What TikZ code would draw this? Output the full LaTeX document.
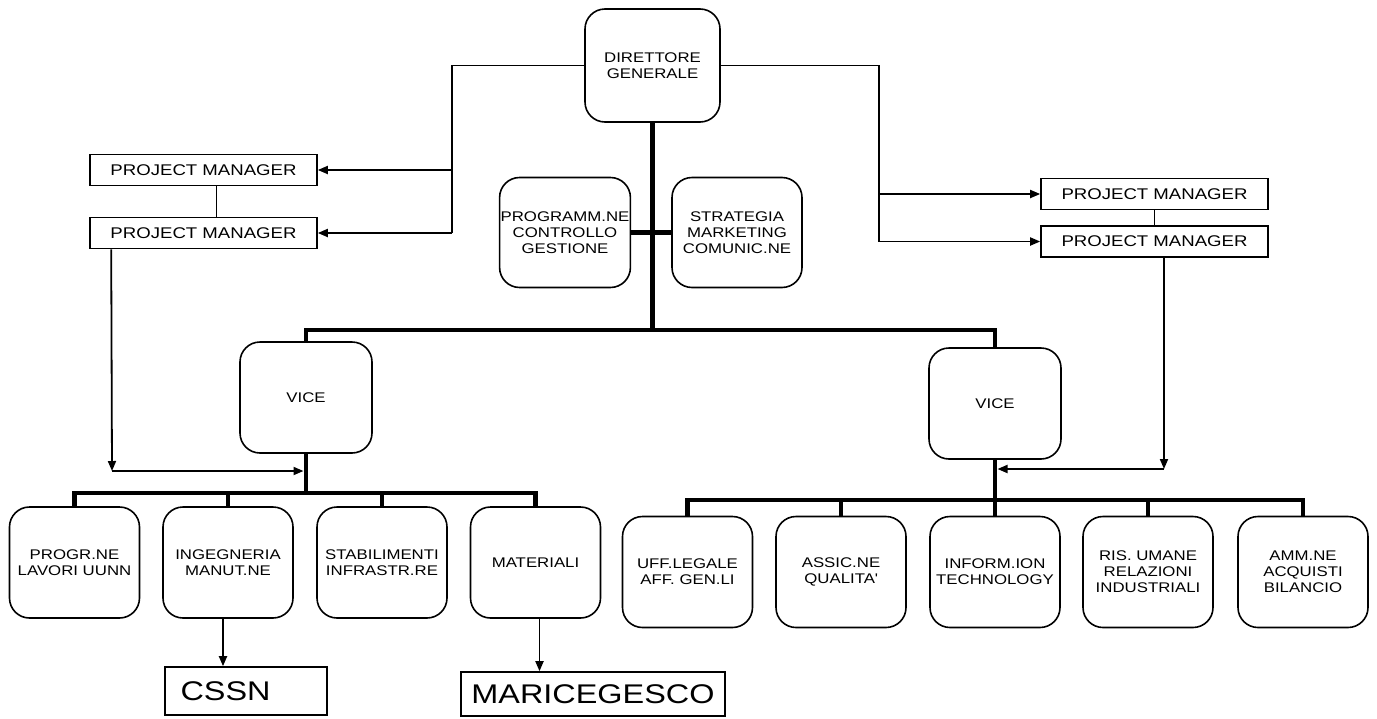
\documentclass[tikz,border=0pt]{standalone}
\usepackage{fontspec}
\setmainfont[FakeStretch=1.2]{Liberation Sans}
\usetikzlibrary{arrows.meta}

\begin{document}
\begin{tikzpicture}[x=1pt,y=-1pt,
    unit/.style={draw=black, line width=1.6pt, rounded corners=20pt, minimum width=130pt, minimum height=111pt, align=center, inner sep=1pt, font=\fontsize{14}{16}\selectfont},
    pmbox/.style={draw=black, line width=1.6pt, minimum width=227pt, minimum height=31pt, inner sep=0pt, font=\fontsize{15.5}{18}\selectfont},
    office/.style={draw=black, line width=1.6pt, inner sep=0pt, font=\fontsize{27}{30}\selectfont},
    link/.style={line width=1.8pt},
    bus/.style={line width=4.5pt},
    arrowlink/.style={link, -{Triangle[length=10pt,width=8pt]}}]

  % Fix the page size
  \useasboundingbox (0,0) rectangle (1377,718);

  % Draw the top of the chart
  \node[unit, minimum width=135pt, minimum height=113pt] (dg) at (652.5,65.5) {DIRETTORE\\GENERALE};
  \node[unit, minimum height=110pt] (prog) at (565,232.5) {PROGRAMM.NE\\CONTROLLO\\GESTIONE};
  \node[unit, minimum height=110pt] (strat) at (737,232.5) {STRATEGIA\\MARKETING\\COMUNIC.NE};

  % Draw the project managers
  \node[pmbox] (pml1) at (203.5,170) {PROJECT MANAGER};
  \node[pmbox] (pml2) at (203.5,233) {PROJECT MANAGER};
  \node[pmbox] (pmr1) at (1154.5,194) {PROJECT MANAGER};
  \node[pmbox] (pmr2) at (1154.5,241.5) {PROJECT MANAGER};

  % Draw the two vice directors
  \node[unit, minimum width=132pt] (vicel) at (306,397.5) {VICE};
  \node[unit, minimum width=132pt] (vicer) at (995,403.5) {VICE};

  % Draw the offices under the left vice
  \node[unit] (progr) at (74.5,562.5) {PROGR.NE\\LAVORI UUNN};
  \node[unit] (inge) at (228,562.5) {INGEGNERIA\\MANUT.NE};
  \node[unit] (stab) at (382,562.5) {STABILIMENTI\\INFRASTR.RE};
  \node[unit] (mat) at (535.5,562.5) {MATERIALI};

  % Draw the offices under the right vice
  \node[unit] (uff) at (687.5,572) {UFF.LEGALE\\AFF. GEN.LI};
  \node[unit] (assic) at (841,572) {ASSIC.NE\\QUALITA\textquotesingle};
  \node[unit] (inform) at (995,572) {INFORM.ION\\TECHNOLOGY};
  \node[unit] (ris) at (1148,572) {RIS. UMANE\\RELAZIONI\\INDUSTRIALI};
  \node[unit] (amm) at (1303,572) {AMM.NE\\ACQUISTI\\BILANCIO};

  % Draw the outside bodies
  \node[office, minimum height=48pt, text width=131pt, inner xsep=15.5pt, align=left] (cssn) at (246,691) {CSSN};
  \node[office, minimum width=264pt, minimum height=44pt] (mari) at (593,694) {MARICEGESCO};

  % Thick lines of the hierarchy
  \coordinate (topbus) at (652.5,330);
  \draw[bus] (dg.south) -- (topbus);
  \draw[bus] (prog.east) -- (strat.west);
  \draw[bus] (vicel.north) |- (topbus) -| (vicer.north);

  \coordinate (lbus) at (306,493);
  \draw[bus] (vicel.south) -- (lbus);
  \foreach \n in {progr,inge,stab,mat}
    \draw[bus] (\n.north) |- (lbus);

  \coordinate (rbus) at (995,500);
  \draw[bus] (vicer.south) -- (rbus);
  \foreach \n in {uff,assic,inform,ris,amm}
    \draw[bus] (\n.north) |- (rbus);

  % Project managers on the left
  \coordinate (lbend) at (452,65.5);
  \draw[link] (dg.west) -- (lbend) -- (lbend |- pml2.east);
  \draw[arrowlink] (lbend |- pml1.east) -- (pml1.east);
  \draw[arrowlink] (lbend |- pml2.east) -- (pml2.east);
  \draw[link] ([xshift=13pt]pml1.south) -- ([xshift=13pt]pml2.north);
  \coordinate (lcorner) at (112,471);
  \draw[arrowlink] ([xshift=22pt]pml2.south west) -- (lcorner);
  \draw[arrowlink, shorten >=2.5pt] (lcorner) -- (lcorner -| vicel.south);

  % Project managers on the right
  \coordinate (rbend) at (879,65.5);
  \draw[link] (dg.east) -- (rbend) -- (rbend |- pmr2.west);
  \draw[arrowlink] (rbend |- pmr1.west) -- (pmr1.west);
  \draw[arrowlink] (rbend |- pmr2.west) -- (pmr2.west);
  \draw[link] (pmr1.south) -- (pmr2.north);
  \coordinate (rcorner) at (1164,469);
  \draw[arrowlink] (pmr2.south -| rcorner) -- (rcorner);
  \draw[arrowlink, shorten >=2.5pt] (rcorner) -- (rcorner -| vicer.south);

  % Links to the outside bodies
  \draw[arrowlink] ([xshift=-5pt]inge.south) -- ([xshift=-5pt]inge.south |- cssn.north);
  \draw[arrowlink] ([xshift=4pt]mat.south) -- ([xshift=4pt]mat.south |- mari.north);

\end{tikzpicture}
\end{document}
